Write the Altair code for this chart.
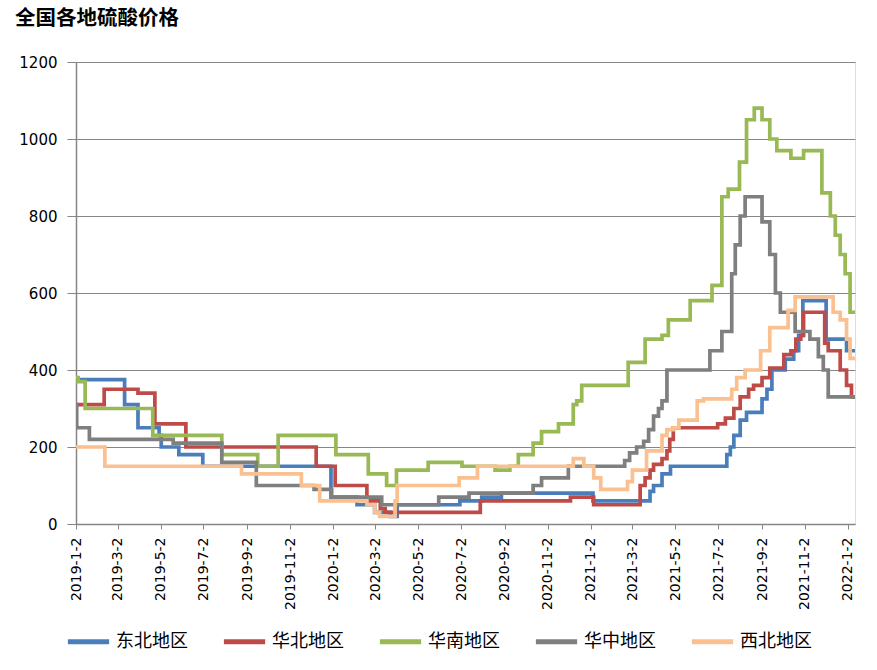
import altair as alt
import pandas as pd

series_names = ["东北地区", "华北地区", "华南地区", "华中地区", "西北地区"]
series_colors = ["#4A7EBB", "#BE4B48", "#98B954", "#7F7F7F", "#FAC08F"]

ne_dates = ["2019-01-02", "2019-03-12", "2019-03-31", "2019-04-30", "2019-05-03", "2019-05-28",
            "2019-07-01", "2019-12-30", "2020-02-05", "2020-03-01", "2020-03-23", "2020-04-02",
            "2020-06-30", "2020-07-31", "2020-08-28", "2021-01-05", "2021-03-27", "2021-04-01",
            "2021-04-13", "2021-04-25", "2021-07-14", "2021-07-19", "2021-07-24", "2021-08-02",
            "2021-08-11", "2021-09-02", "2021-09-09", "2021-09-16", "2021-10-05", "2021-10-17",
            "2021-10-24", "2021-10-30", "2021-12-02", "2021-12-31", "2022-01-12"]
ne_values = [375, 310, 250, 230, 200, 180,
             150, 70, 50, 30, 20, 50,
             60, 70, 80, 60, 85, 100,
             130, 150, 180, 200, 230, 270,
             290, 325, 350, 400, 428, 450,
             490, 580, 480, 450, 450]

nc_dates = ["2019-01-02", "2019-02-11", "2019-03-31", "2019-04-24", "2019-06-07", "2019-12-09",
            "2020-01-05", "2020-02-19", "2020-03-09", "2020-03-16", "2020-07-29", "2020-12-04",
            "2021-01-06", "2021-03-13", "2021-03-20", "2021-03-27", "2021-04-01", "2021-04-13",
            "2021-04-20", "2021-04-24", "2021-04-29", "2021-07-01", "2021-07-12", "2021-07-24",
            "2021-08-02", "2021-08-14", "2021-08-21", "2021-09-02", "2021-09-13", "2021-10-03",
            "2021-10-13", "2021-10-20", "2021-10-27", "2021-10-31", "2021-11-30", "2021-12-05",
            "2021-12-22", "2021-12-31", "2022-01-07", "2022-01-12"]
nc_values = [310, 350, 340, 260, 200, 150,
             100, 60, 40, 30, 60, 70,
             50, 100, 120, 140, 155, 170,
             190, 220, 250, 260, 275, 300,
             330, 350, 360, 380, 405, 440,
             450, 480, 490, 550, 470, 450,
             400, 360, 330, 330]

sc_dates = ["2019-01-02", "2019-01-05", "2019-01-15", "2019-04-21", "2019-07-28", "2019-09-17",
            "2019-10-16", "2020-01-06", "2020-02-21", "2020-03-18", "2020-04-01", "2020-05-16",
            "2020-07-03", "2020-08-19", "2020-09-09", "2020-09-21", "2020-10-12", "2020-10-24",
            "2020-11-17", "2020-12-08", "2020-12-13", "2020-12-20", "2021-02-24", "2021-03-20",
            "2021-04-13", "2021-04-22", "2021-05-23", "2021-06-23", "2021-07-07", "2021-07-16",
            "2021-08-01", "2021-08-11", "2021-08-22", "2021-09-02", "2021-09-13", "2021-09-23",
            "2021-10-13", "2021-10-31", "2021-11-26", "2021-12-08", "2021-12-15", "2021-12-22",
            "2021-12-29", "2022-01-05", "2022-01-12"]
sc_values = [380, 370, 300, 230, 180, 150,
             230, 180, 130, 100, 140, 160,
             150, 140, 150, 180, 210, 240,
             260, 310, 320, 360, 420, 480,
             490, 530, 580, 620, 850, 870,
             940, 1050, 1080, 1050, 1000, 970,
             950, 970, 860, 800, 750, 700,
             650, 550, 550]

cc_dates = ["2019-01-02", "2019-01-03", "2019-01-21", "2019-05-20", "2019-07-28", "2019-09-15",
            "2019-12-06", "2019-12-31", "2020-03-11", "2020-05-31", "2020-07-13", "2020-10-12",
            "2020-10-24", "2020-12-01", "2021-02-19", "2021-02-26", "2021-03-08", "2021-03-18",
            "2021-03-25", "2021-04-01", "2021-04-08", "2021-04-13", "2021-04-20", "2021-06-20",
            "2021-07-07", "2021-07-21", "2021-07-26", "2021-08-02", "2021-08-09", "2021-09-02",
            "2021-09-13", "2021-09-21", "2021-09-28", "2021-10-19", "2021-11-09", "2021-11-21",
            "2021-11-28", "2021-12-05", "2022-01-12"]
cc_values = [310, 250, 220, 210, 160, 100,
             90, 70, 50, 70, 80, 100,
             120, 150, 165, 185, 200, 215,
             245, 280, 300, 320, 400, 450,
             500, 650, 725, 800, 850, 785,
             700, 600, 550, 500, 480, 435,
             400, 330, 330]

nw_dates = ["2019-01-02", "2019-02-12", "2019-08-25", "2019-11-18", "2019-12-14", "2020-02-19",
            "2020-03-01", "2020-03-08", "2020-03-30", "2020-04-02", "2020-06-29", "2020-07-25",
            "2020-12-08", "2020-12-23", "2021-01-06", "2021-01-16", "2021-02-23", "2021-03-02",
            "2021-03-22", "2021-04-13", "2021-04-20", "2021-04-29", "2021-05-07", "2021-06-02",
            "2021-06-11", "2021-07-21", "2021-07-28", "2021-08-09", "2021-08-31", "2021-09-13",
            "2021-10-09", "2021-10-19", "2021-12-12", "2021-12-22", "2021-12-31", "2022-01-05",
            "2022-01-12"]
nw_values = [200, 150, 130, 100, 60, 50,
             30, 20, 60, 100, 120, 150,
             170, 150, 120, 90, 110, 140,
             190, 230, 245, 250, 270, 320,
             325, 350, 380, 400, 450, 510,
             555, 590, 550, 530, 480, 430,
             430]

tick_dates = ["2019-01-02", "2019-03-02", "2019-05-02", "2019-07-02", "2019-09-02", "2019-11-02",
              "2020-01-02", "2020-03-02", "2020-05-02", "2020-07-02", "2020-09-02", "2020-11-02",
              "2021-01-02", "2021-03-02", "2021-05-02", "2021-07-02", "2021-09-02", "2021-11-02",
              "2022-01-02"]
y_ticks = [0, 200, 400, 600, 800, 1000, 1200]
x_start = "2019-01-02"
x_end = "2022-01-12"

all_dates = [ne_dates, nc_dates, sc_dates, cc_dates, nw_dates]
all_values = [ne_values, nc_values, sc_values, cc_values, nw_values]

frames = []
for name, d, v in zip(series_names, all_dates, all_values):
    frames.append(pd.DataFrame({"date": pd.to_datetime(d), "price": v, "region": name}))
df = pd.concat(frames, ignore_index=True)


def to_dt(s):
    t = pd.Timestamp(s)
    return alt.DateTime(year=t.year, month=t.month, date=t.day)


grey = "#868686"

x_enc = alt.X(
    "date:T",
    title=None,
    scale=alt.Scale(domain=[to_dt(x_start), to_dt(x_end)]),
    axis=alt.Axis(
        values=[to_dt(s) for s in tick_dates],
        format="%Y-%-m-%-d",
        labelAngle=270,
        labelAlign="right",
        labelBaseline="middle",
        labelFont="DejaVu Sans",
        labelFontSize=14,
        labelColor="#000000",
        labelPadding=8,
        tickSize=5,
        tickColor=grey,
        domainColor=grey,
        domainWidth=1.5,
        grid=False,
        labelOverlap=False,
    ),
)
y_enc = alt.Y(
    "price:Q",
    title=None,
    scale=alt.Scale(domain=[0, 1200], nice=False),
    axis=alt.Axis(
        values=y_ticks,
        format="d",
        grid=True,
        gridColor=grey,
        gridWidth=1.2,
        tickSize=9,
        tickColor=grey,
        domainColor=grey,
        domainWidth=1.5,
        labelFont="DejaVu Sans",
        labelFontSize=15,
        labelColor="#000000",
        labelPadding=10,
    ),
)
color_enc = alt.Color(
    "region:N",
    scale=alt.Scale(domain=series_names, range=series_colors),
    legend=alt.Legend(
        title=None,
        orient="none",
        legendX=-11,
        legendY=556,
        direction="horizontal",
        symbolType="stroke",
        symbolStrokeWidth=5,
        symbolSize=1700,
        labelFont="Noto Sans CJK SC",
        labelFontSize=18,
        labelColor="#000000",
        labelOffset=4,
        columnPadding=25,
    ),
)

layers = []
for name in series_names:
    layers.append(
        alt.Chart(df)
        .transform_filter(alt.datum.region == name)
        .mark_line(interpolate="step-after", strokeWidth=3.7, clip=True)
        .encode(x=x_enc, y=y_enc, color=color_enc)
    )

chart = (
    alt.layer(*layers)
    .properties(
        width=779,
        height=462,
        autosize=alt.AutoSizeParams(type="none"),
        padding={"left": 76, "top": 62, "right": 22, "bottom": 146},
        title=alt.TitleParams(
            "全国各地硫酸价格",
            anchor="start",
            frame="group",
            font="Noto Sans CJK SC",
            fontSize=20.5,
            fontWeight="bold",
            color="#000000",
            dx=-61,
            dy=-22,
        ),
    )
    .configure_view(stroke=None)
    .configure(background="white")
)

chart.save("out.html", embed_options={"renderer": "svg", "actions": False})
